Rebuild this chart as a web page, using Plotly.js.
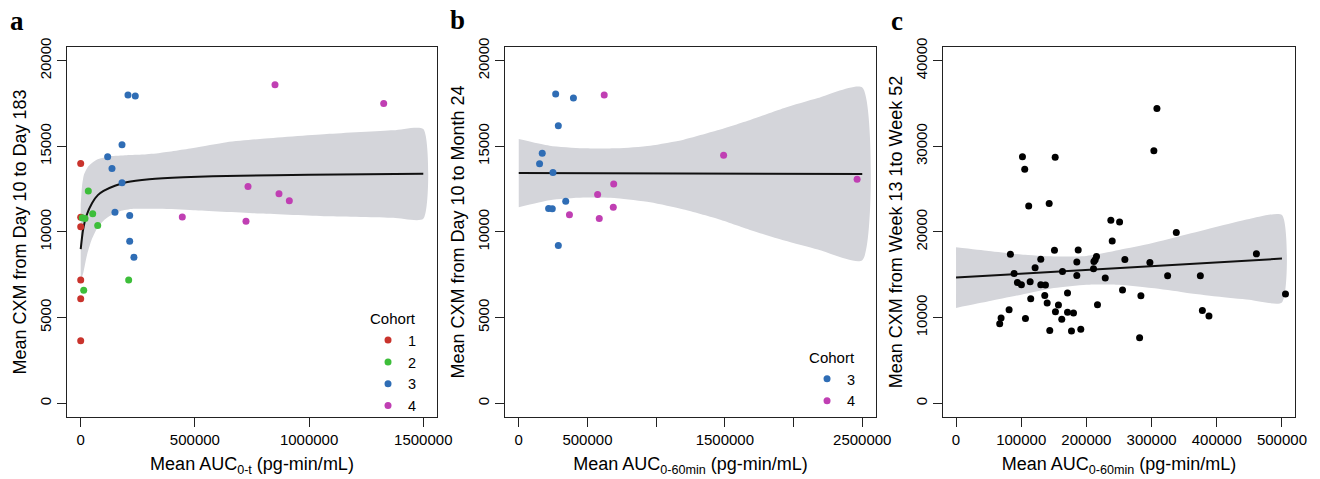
<!DOCTYPE html>
<html>
<head>
<meta charset="utf-8">
<script src="https://cdn.plot.ly/plotly-3.0.1.min.js"></script>
<style>html,body{margin:0;padding:0;background:#fff;}#chart{width:1320px;height:479px;}</style>
</head>
<body>
<div id="chart"></div>
<script>
// ---------- Panel a : Mean AUC0-t vs Mean CXM Day 10 to Day 183 ----------
const a_c1_x = [0, 0, 0, 0, 0, 0];
const a_c1_y = [14000, 10860, 10300, 7200, 6100, 3650];
const a_c2_x = [33300, 7000, 18800, 52500, 74400, 13100, 210000];
const a_c2_y = [12400, 10830, 10790, 11060, 10380, 6600, 7200];
const a_c3_x = [207000, 239000, 180800, 118000, 137000, 180800, 150000, 214500, 214500, 233000];
const a_c3_y = [18000, 17940, 15100, 14400, 13700, 12870, 11150, 10960, 9460, 8530];
const a_c4_x = [850700, 1326600, 732500, 868200, 913400, 444800, 723700];
const a_c4_y = [18600, 17500, 12650, 12240, 11830, 10880, 10630];
const a_fit_x = [0, 10000, 25000, 50000, 75000, 100000, 150000, 200000, 300000, 450000, 700000, 1000000, 1250000, 1500000];
const a_fit_y = [9000, 10100, 10950, 11700, 12150, 12400, 12700, 12900, 13080, 13200, 13290, 13340, 13370, 13400];
const a_up_x = [0, 5800, 14400, 33400, 70000, 128000, 201000, 274000, 347000, 493000, 639000, 785000, 1077000, 1368600, 1500000];
const a_up_y = [11600, 12670, 13350, 13840, 14225, 14420, 14480, 14520, 14610, 14900, 15240, 15430, 15720, 15940, 16010];
const a_lo_x = [0, 11400, 26300, 48200, 77000, 113800, 172000, 230000, 347000, 493000, 785000, 1077000, 1368600, 1500000];
const a_lo_y = [7130, 7620, 8590, 9560, 10340, 10820, 11210, 11350, 11350, 11270, 11080, 10920, 10830, 10770];
const a_xticks = [0, 500000, 1000000, 1500000];
const a_xlabels = ['0', '500000', '1000000', '1500000'];

// ---------- Panel b : Mean AUC0-60min vs Mean CXM Day 10 to Month 24 ----------
const b_c3_x = [268700, 398000, 288000, 171000, 151500, 249000, 342000, 217400, 244000, 288000];
const b_c3_y = [18050, 17820, 16200, 14600, 13990, 13470, 11800, 11370, 11350, 9210];
const b_c4_x = [622000, 1491000, 2462500, 691000, 574000, 688000, 369000, 586000];
const b_c4_y = [18000, 14480, 13080, 12800, 12190, 11450, 11000, 10790];
const b_fit_x = [0, 2500000];
const b_fit_y = [13450, 13390];
const b_band_x = [0, 224700, 468500, 713000, 957000, 1200600, 1445000, 1689000, 1932700, 2177000, 2500000];
const b_up_y = [15430, 15040, 14885, 14885, 15040, 15390, 15935, 16560, 17240, 17820, 18440];
const b_lo_y = [11445, 11855, 12010, 11970, 11735, 11310, 10770, 10105, 9503, 8978, 8355];
const b_xticks = [0, 500000, 1500000, 2500000];
const b_xlabels = ['0', '500000', '1500000', '2500000'];

// ---------- Panel c : Mean AUC0-60min vs Mean CXM Week 13 to Week 52 ----------
const c_x = [308200, 303500, 101900, 152100, 105400, 111500, 142900, 237500, 250900, 337900,
             239600, 83400, 151000, 187400, 460800, 130000, 185300, 215500, 213500, 211500,
             259000, 297400, 121300, 89100, 163300, 210900, 185300, 228900, 324600, 374800,
             94200, 100300, 113700, 130000, 137200, 255400, 171000, 114600, 136100, 283600,
             505400, 139800, 157100, 217000, 81400, 152500, 171000, 180200, 377900, 388000,
             69100, 67000, 106500, 162200, 143800, 177100, 191400, 281600];
const c_y = [34425, 29500, 28800, 28730, 27330, 23030, 23340, 21360, 21170, 19930,
             18960, 17410, 17870, 17910, 17450, 16830, 16510, 17130, 16750, 16550,
             16790, 16440, 15820, 15160, 15390, 15700, 14925, 14620, 14890, 14890,
             14110, 13840, 14190, 13840, 13800, 13220, 12870, 12210, 12600, 12560,
             12750, 11710, 11470, 11510, 10930, 10700, 10620, 10540, 10820, 10190,
             9960, 9300, 9890, 9810, 8490, 8450, 8640, 7640];
const c_fit_x = [0, 500000];
const c_fit_y = [14690, 16900];
const c_band_x = [0, 50000, 100000, 150000, 200000, 250000, 300000, 350000, 400000, 450000, 500000];
const c_up_y = [18220, 17790, 17370, 17140, 17210, 17910, 18690, 19650, 20620, 21520, 21980];
const c_lo_y = [11130, 11900, 12680, 13450, 13840, 13840, 13450, 12950, 12480, 12100, 11780];
const c_xticks = [0, 100000, 200000, 300000, 400000, 500000];
const c_xlabels = ['0', '100000', '200000', '300000', '400000', '500000'];

const y_ticks_ab = [0, 5000, 10000, 15000, 20000];
const y_ticks_c = [0, 10000, 20000, 30000, 40000];

const cohortColors = {'1': '#C9332C', '2': '#3DBE3A', '3': '#2F6DB5', '4': '#C03FB3'};
const bandColor = '#D4D5DA';

function band(xu, yu, xl, yl, xa, ya) {
  return {x: xu.concat(xl.slice().reverse()), y: yu.concat(yl.slice().reverse()),
    xaxis: xa, yaxis: ya, mode: 'lines', fill: 'toself', fillcolor: bandColor,
    line: {width: 0, color: bandColor, shape: 'spline', smoothing: 0.6}, showlegend: false, hoverinfo: 'skip'};
}
function fit(x, y, xa, ya) {
  return {x: x, y: y, xaxis: xa, yaxis: ya, mode: 'lines',
    line: {color: '#111', width: 2, shape: 'spline', smoothing: 0.6}, showlegend: false};
}
function pts(x, y, name, xa, ya, leg) {
  return {x: x, y: y, xaxis: xa, yaxis: ya, mode: 'markers', name: name, legend: leg,
    marker: {color: cohortColors[name], size: 7}};
}

const traces = [
  band(a_up_x, a_up_y, a_lo_x, a_lo_y, 'x', 'y'),
  fit(a_fit_x, a_fit_y, 'x', 'y'),
  pts(a_c1_x, a_c1_y, '1', 'x', 'y', 'legend'),
  pts(a_c2_x, a_c2_y, '2', 'x', 'y', 'legend'),
  pts(a_c3_x, a_c3_y, '3', 'x', 'y', 'legend'),
  pts(a_c4_x, a_c4_y, '4', 'x', 'y', 'legend'),
  band(b_band_x, b_up_y, b_band_x, b_lo_y, 'x2', 'y2'),
  fit(b_fit_x, b_fit_y, 'x2', 'y2'),
  pts(b_c3_x, b_c3_y, '3', 'x2', 'y2', 'legend2'),
  pts(b_c4_x, b_c4_y, '4', 'x2', 'y2', 'legend2'),
  band(c_band_x, c_up_y, c_band_x, c_lo_y, 'x3', 'y3'),
  fit(c_fit_x, c_fit_y, 'x3', 'y3'),
  {x: c_x, y: c_y, xaxis: 'x3', yaxis: 'y3', mode: 'markers', showlegend: false,
   marker: {color: '#000', size: 7}}
];

const FONT = 'Liberation Sans, Arial, sans-serif';
function xax(domain, range, tv, tt, title, anchor, minorStep) {
  const ax = {domain: domain, range: range, anchor: anchor, tickvals: tv, ticktext: tt,
    showline: true, mirror: true, linecolor: '#222', linewidth: 1, ticks: 'outside', ticklen: 9,
    tickcolor: '#222', showgrid: false, zeroline: false, tickfont: {size: 15, family: FONT},
    title: {text: title, font: {size: 18, family: FONT}, standoff: 10}};
  if (minorStep) {
    ax.minor = {tick0: 0, dtick: minorStep, ticks: 'outside', ticklen: 9, tickcolor: '#222', showgrid: false};
  }
  return ax;
}
function yax(range, tv, title, anchor) {
  return {domain: [0.12944, 0.90188], range: range, anchor: anchor, tickvals: tv,
    ticktext: tv.map(String), tickangle: -90,
    showline: true, mirror: true, linecolor: '#222', linewidth: 1, ticks: 'outside', ticklen: 9,
    tickcolor: '#222', showgrid: false, zeroline: false, tickfont: {size: 15, family: FONT},
    title: {text: title, font: {size: 18, family: FONT}, standoff: 5}};
}

const legendStyle = {bgcolor: 'rgba(0,0,0,0)', borderwidth: 0, font: {size: 14.5, family: FONT},
  title: {text: 'Cohort', font: {size: 15, family: FONT}}, xanchor: 'left', yanchor: 'top', tracegroupgap: 0};

const letterFont = {family: 'Liberation Serif, Times New Roman, serif', size: 27, color: '#000'};
const layout = {
  width: 1320, height: 479, margin: {l: 0, r: 0, t: 0, b: 0},
  paper_bgcolor: '#fff', plot_bgcolor: '#fff',
  font: {family: FONT, size: 15, color: '#000'},
  xaxis: xax([0.05076, 0.33106], [-60000, 1560000], a_xticks, a_xlabels, 'Mean AUC<sub>0-t</sub> (pg-min/mL)', 'y'),
  yaxis: yax([-800, 20800], y_ticks_ab, 'Mean CXM from Day 10 to Day 183', 'x'),
  xaxis2: xax([0.38258, 0.66364], [-100000, 2600000], b_xticks, b_xlabels, 'Mean AUC<sub>0-60min</sub> (pg-min/mL)', 'y2', 500000),
  yaxis2: yax([-800, 20800], y_ticks_ab, 'Mean CXM from Day 10 to Month 24', 'x2'),
  xaxis3: xax([0.71439, 0.98106], [-20000, 520000], c_xticks, c_xlabels, 'Mean AUC<sub>0-60min</sub> (pg-min/mL)', 'y3'),
  yaxis3: yax([-1600, 41600], y_ticks_c, 'Mean CXM from Week 13 1to Week 52', 'x3'),
  legend: Object.assign({x: 0.2788, y: 0.364}, legendStyle),
  legend2: Object.assign({x: 0.6114, y: 0.283}, legendStyle),
  annotations: [
    {text: '<b>a</b>', x: 17 / 1320, y: 1 - 21 / 479, xref: 'paper', yref: 'paper', showarrow: false,
     xanchor: 'center', yanchor: 'middle', font: letterFont},
    {text: '<b>b</b>', x: 457 / 1320, y: 1 - 20 / 479, xref: 'paper', yref: 'paper', showarrow: false,
     xanchor: 'center', yanchor: 'middle', font: letterFont},
    {text: '<b>c</b>', x: 897 / 1320, y: 1 - 21 / 479, xref: 'paper', yref: 'paper', showarrow: false,
     xanchor: 'center', yanchor: 'middle', font: letterFont}
  ]
};

Plotly.newPlot('chart', traces, layout, {staticPlot: true, displayModeBar: false});
</script>
</body>
</html>
